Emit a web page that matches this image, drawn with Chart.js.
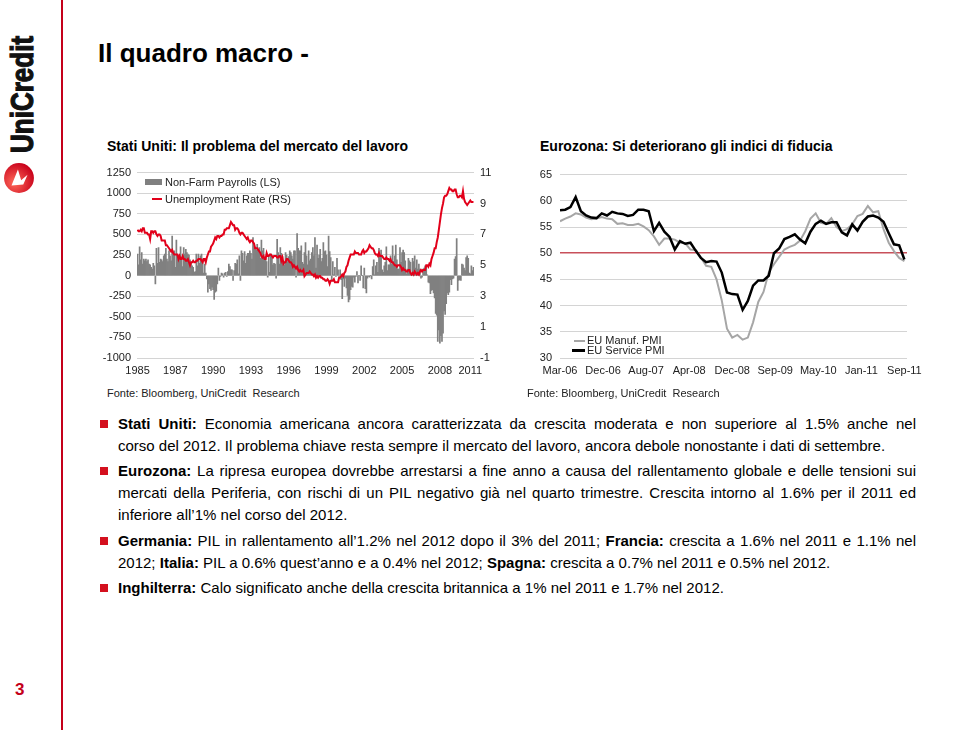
<!DOCTYPE html>
<html>
<head>
<meta charset="utf-8">
<script src="https://cdn.jsdelivr.net/npm/chart.js@4.4.0/dist/chart.umd.min.js"></script>
<style>
  body { margin: 0; width: 960px; height: 734px; position: relative; background: #fff; overflow: hidden;
         font-family: "Liberation Sans", Arial, sans-serif; color: #000; }
  .abs { position: absolute; }
  #redline { left: 61px; top: 0; width: 2px; height: 730px; background: #c4001a; }
  #logo { left: -33px; top: 78px; width: 112px; height: 32px; line-height: 32px; text-align: center;
          font-size: 31px; font-weight: bold; color: #111; white-space: nowrap;
          -webkit-text-stroke: 1.2px #111;
          transform: rotate(-90deg) scaleX(0.84); }
  #pageno { left: 15px; top: 680px; font-size: 17px; font-weight: bold; color: #c4001a; }
  #title { left: 98px; top: 38px; font-size: 26px; font-weight: bold; line-height: 30px; }
  .ctitle { top: 138px; font-size: 14px; font-weight: bold; line-height: 16px; white-space: nowrap; }
  .src { top: 387px; font-size: 11px; line-height: 13px; color: #222; white-space: nowrap; }
  canvas.abs { display: block; }
  .leg { font-size: 11px; line-height: 13px; color: #222; white-space: nowrap; }
  .bul { left: 100px; width: 8px; height: 8px; background: #d4101e; }
  .ln { left: 118px; width: 798px; font-size: 15px; line-height: 22px; height: 22px; }
  .j { text-align: justify; text-align-last: justify; }
  .l { text-align: left; white-space: nowrap; }
</style>
</head>
<body>
<div id="redline" class="abs"></div>
<div id="logo" class="abs" style="top:90px">UniCredit</div>
<svg class="abs" style="left:3px;top:162px" width="32" height="32" viewBox="0 0 30 30">
  <defs>
    <radialGradient id="rg" cx="0.35" cy="0.65" r="0.7">
      <stop offset="0" stop-color="#ff6a5a"/>
      <stop offset="1" stop-color="#c8001a"/>
    </radialGradient>
  </defs>
  <circle cx="15" cy="15" r="14" fill="url(#rg)"/>
  <path d="M8 22 L14 7 L17 17 L23 12 L19 21 Z" fill="#fff"/>
</svg>
<div id="pageno" class="abs">3</div>

<div id="title" class="abs">Il quadro macro -</div>
<div class="abs ctitle" style="left:107px">Stati Uniti: Il problema del mercato del lavoro</div>
<div class="abs ctitle" style="left:540px">Eurozona: Si deteriorano gli indici di fiducia</div>

<canvas id="usChart" class="abs" style="left:100px;top:160px" width="400" height="222"></canvas>
<canvas id="euChart" class="abs" style="left:520px;top:160px" width="420" height="222"></canvas>

<!-- legends -->
<div class="abs" style="left:145px;top:179px;width:17px;height:6px;background:#808080"></div>
<div class="abs leg" style="left:165px;top:176px">Non-Farm Payrolls (LS)</div>
<div class="abs" style="left:152px;top:198px;width:10px;height:2px;background:#e2001a"></div>
<div class="abs leg" style="left:165px;top:193px">Unemployment Rate (RS)</div>

<div class="abs" style="left:574px;top:340px;width:11px;height:2px;background:#a6a6a6"></div>
<div class="abs leg" style="left:587px;top:334px">EU Manuf. PMI</div>
<div class="abs" style="left:572px;top:349px;width:13px;height:2.5px;background:#000"></div>
<div class="abs leg" style="left:587px;top:344px">EU Service PMI</div>

<div class="abs src" style="left:107px">Fonte: Bloomberg, UniCredit&nbsp; Research</div>
<div class="abs src" style="left:527px">Fonte: Bloomberg, UniCredit&nbsp; Research</div>

<!-- bullet text -->
<div class="abs bul" style="top:420px"></div>
<div class="abs ln j" style="top:413px"><b>Stati Uniti:</b> Economia americana ancora caratterizzata da crescita moderata e non superiore al 1.5% anche nel</div>
<div class="abs ln l" style="top:435px">corso del 2012. Il problema chiave resta sempre il mercato del lavoro, ancora debole nonostante i dati di settembre.</div>

<div class="abs bul" style="top:467px"></div>
<div class="abs ln j" style="top:460px"><b>Eurozona:</b> La ripresa europea dovrebbe arrestarsi a fine anno a causa del rallentamento globale e delle tensioni sui</div>
<div class="abs ln j" style="top:482px">mercati della Periferia, con rischi di un PIL negativo già nel quarto trimestre. Crescita intorno al 1.6% per il 2011 ed</div>
<div class="abs ln l" style="top:504px">inferiore all’1% nel corso del 2012.</div>

<div class="abs bul" style="top:537px"></div>
<div class="abs ln j" style="top:530px"><b>Germania:</b> PIL in rallentamento all’1.2% nel 2012 dopo il 3% del 2011; <b>Francia:</b> crescita a 1.6% nel 2011 e 1.1% nel</div>
<div class="abs ln l" style="top:552px">2012; <b>Italia:</b> PIL a 0.6% quest’anno e a 0.4% nel 2012; <b>Spagna:</b> crescita a 0.7% nel 2011 e 0.5% nel 2012.</div>

<div class="abs bul" style="top:584px"></div>
<div class="abs ln l" style="top:577px"><b>Inghilterra:</b> Calo significato anche della crescita britannica a 1% nel 2011 e 1.7% nel 2012.</div>

<script>
// US: monthly, Jan 1985 - Sep 2011
const yearLabels = ['1985', '1987', '1990', '1993', '1996', '1999', '2002', '2005', '2008', '2011'];
const yearTickAt = [0, 36, 72, 108, 144, 180, 216, 252, 288, 317];

// non-farm payrolls, monthly change (thousands)
const payrolls = [
  260, 130, 350, 190, 280, 140, 200, 180, 200, 170, 190, 140,      // 1985
  130, 100, 80, 150, 120, -100, 330, 150, 340, 160, 200, 190,      // 1986
  170, 240, 260, 330, 200, 170, 300, 240, 180, 480, 260, 300,      // 1987
  100, 430, 230, 250, 200, 350, 220, 110, 340, 260, 320, 280,      // 1988
  260, 250, 190, 160, 120, 100, 40, 50, 260, 120, 260, 150,        // 1989
  240, 260, 200, 30, 140, 30, -40, -200, -100, -160, -180, -140,   // 1990
  -170, -290, -200, -190, -100, 90, -60, -10, 30, 20, -20, 30,     // 1991
  40, -10, 50, 140, 110, 70, 70, -60, 60, 150, 140, 190,           // 1992
  20, 240, -60, 300, 270, 180, 290, 150, 240, 270, 270, 300,       // 1993
  270, 200, 460, 350, 330, 310, 380, 290, 340, 210, 430, 300,      // 1994
  330, 220, 220, 170, -20, 240, 40, 260, 240, 130, 150, 140,       // 1995
  -30, 440, 280, 140, 340, 270, 230, 180, 130, 280, 250, 170,      // 1996
  230, 300, 280, 240, 200, 300, 300, -20, 510, 330, 300, 300,      // 1997
  360, 160, 140, 280, 400, 240, 130, 300, 180, 200, 280, 340,      // 1998
  240, 460, 90, 370, 210, 250, 320, 170, 210, 400, 290, 300,       // 1999
  250, 110, 480, 290, 220, -50, 170, 10, 100, -10, 210, 70,        // 2000
  -10, 70, -50, -280, -40, -130, -30, -150, -240, -320, -290, -170, // 2001
  -130, -140, -20, -80, -10, 50, -90, 0, -60, 120, 0, -150,        // 2002
  90, -160, -210, -30, -10, -20, 0, -40, 110, 190, 10, 120,        // 2003
  160, 40, 330, 250, 310, 70, 40, 120, 160, 350, 60, 130,          // 2004
  130, 240, 140, 360, 170, 240, 370, 190, 80, 80, 340, 160,        // 2005
  280, 310, 280, 180, 20, 80, 210, 180, 160, 0, 210, 170,          // 2006
  240, 90, 190, 80, 140, 80, -30, -20, 80, 90, 120, 100,           // 2007
  10, -80, -90, -220, -180, -170, -210, -270, -460, -480, -800, -660, // 2008
  -820, -730, -800, -700, -430, -470, -340, -210, -230, -200, -50, -110, // 2009
  -40, -30, 200, 230, 450, -180, -60, -50, -60, 140, 130, 90,      // 2010
  60, 220, 240, 210, 30, 20, 120, 60, 100                          // 2011
];

// unemployment rate (%)
const unemployment = [
  7.3, 7.2, 7.2, 7.3, 7.2, 7.4, 7.4, 7.1, 7.1, 7.1, 7.0, 7.0,
  6.7, 7.2, 7.2, 7.1, 7.2, 7.2, 7.0, 6.9, 7.0, 7.0, 6.9, 6.6,
  6.6, 6.6, 6.6, 6.3, 6.3, 6.2, 6.1, 6.0, 5.9, 6.0, 5.8, 5.7,
  5.7, 5.7, 5.7, 5.4, 5.6, 5.4, 5.4, 5.6, 5.4, 5.4, 5.3, 5.3,
  5.4, 5.2, 5.0, 5.2, 5.2, 5.3, 5.2, 5.2, 5.3, 5.3, 5.4, 5.4,
  5.4, 5.3, 5.2, 5.4, 5.4, 5.2, 5.5, 5.7, 5.9, 5.9, 6.2, 6.3,
  6.4, 6.6, 6.8, 6.7, 6.9, 6.9, 6.8, 6.9, 6.9, 7.0, 7.0, 7.3,
  7.3, 7.4, 7.4, 7.4, 7.6, 7.8, 7.7, 7.6, 7.6, 7.3, 7.4, 7.4,
  7.3, 7.1, 7.0, 7.1, 7.1, 7.0, 6.9, 6.8, 6.7, 6.8, 6.6, 6.5,
  6.6, 6.6, 6.5, 6.4, 6.1, 6.1, 6.1, 6.0, 5.9, 5.8, 5.6, 5.5,
  5.6, 5.4, 5.4, 5.8, 5.6, 5.6, 5.7, 5.7, 5.6, 5.5, 5.6, 5.6,
  5.6, 5.5, 5.5, 5.6, 5.6, 5.3, 5.5, 5.1, 5.2, 5.2, 5.4, 5.4,
  5.3, 5.2, 5.2, 5.1, 4.9, 5.0, 4.9, 4.8, 4.9, 4.7, 4.6, 4.7,
  4.6, 4.6, 4.7, 4.3, 4.4, 4.5, 4.5, 4.5, 4.6, 4.5, 4.4, 4.4,
  4.3, 4.4, 4.2, 4.3, 4.2, 4.3, 4.3, 4.2, 4.2, 4.1, 4.1, 4.0,
  4.0, 4.1, 4.0, 3.8, 4.0, 4.0, 4.0, 4.1, 3.9, 3.9, 3.9, 3.9,
  4.2, 4.2, 4.3, 4.4, 4.3, 4.5, 4.6, 4.9, 5.0, 5.3, 5.5, 5.7,
  5.7, 5.7, 5.7, 5.9, 5.8, 5.8, 5.8, 5.7, 5.7, 5.7, 5.9, 6.0,
  5.8, 5.9, 5.9, 6.0, 6.1, 6.3, 6.2, 6.1, 6.1, 6.0, 5.8, 5.7,
  5.7, 5.6, 5.8, 5.6, 5.6, 5.6, 5.5, 5.4, 5.4, 5.5, 5.4, 5.4,
  5.3, 5.4, 5.2, 5.2, 5.1, 5.0, 5.0, 4.9, 5.0, 5.0, 5.0, 4.9,
  4.7, 4.8, 4.7, 4.7, 4.6, 4.6, 4.7, 4.7, 4.5, 4.4, 4.5, 4.4,
  4.6, 4.5, 4.4, 4.5, 4.4, 4.6, 4.7, 4.6, 4.7, 4.7, 4.7, 5.0,
  5.0, 4.9, 5.1, 5.0, 5.4, 5.6, 5.8, 6.1, 6.1, 6.5, 6.8, 7.3,
  7.8, 8.3, 8.7, 9.0, 9.4, 9.5, 9.5, 9.6, 9.8, 10.0, 9.9, 9.9,
  9.8, 9.8, 9.9, 9.9, 9.6, 9.4, 9.4, 9.5, 9.5, 9.4, 9.8, 9.3,
  9.1, 9.0, 8.9, 9.0, 9.1, 9.2, 9.1, 9.1, 9.1
];

// Eurozone PMI: monthly, Mar 2006 - Sep 2011
const pmiLabels = ['Mar-06', 'Dec-06', 'Aug-07', 'Apr-08', 'Dec-08', 'Sep-09', 'May-10', 'Jan-11', 'Sep-11'];
const manufPMI = [
  56.1, 56.6, 57.0, 57.6, 57.4, 56.8, 56.5, 56.6, 56.9, 56.6,
  56.5, 55.6, 55.7, 55.4, 55.4, 55.6, 55.1, 54.4, 53.2, 51.6,
  52.8, 52.8, 52.6, 52.0, 51.9, 50.7, 50.6, 49.2, 47.6, 47.4,
  45.0, 41.0, 35.6, 33.9, 34.4, 33.5, 33.9, 36.8, 40.7, 42.6,
  46.3, 47.9, 49.3, 50.7, 51.2, 51.6, 52.4, 54.2, 56.6, 57.6,
  55.8, 55.6, 56.7, 55.0, 54.2, 54.6, 55.5, 57.1, 57.5, 59.0,
  57.8, 58.0, 54.6, 52.0, 50.4, 49.1, 48.5
];
const servicePMI = [
  58.2, 58.3, 58.8, 60.7, 58.0, 57.2, 56.8, 56.7, 57.6, 57.2,
  57.9, 57.6, 57.5, 57.1, 57.3, 58.3, 58.3, 58.0, 54.2, 55.8,
  54.1, 53.1, 50.7, 52.3, 51.8, 52.0, 50.5, 49.1, 48.3, 48.5,
  48.4, 46.3, 42.5, 42.2, 42.1, 39.2, 40.9, 43.8, 44.8, 44.8,
  45.7, 50.0, 50.9, 52.7, 53.1, 53.6, 52.6, 51.9, 54.1, 55.6,
  56.2, 55.6, 55.9, 55.9, 54.0, 53.4, 55.5, 54.3, 56.0, 57.0,
  57.2, 56.8, 56.0, 53.8, 51.7, 51.5, 48.8
];
const pmiThreshold = 50;

Chart.defaults.font.family = '"Liberation Sans", Arial, sans-serif';
Chart.defaults.font.size = 11;
Chart.defaults.color = '#222';

const toXY = (arr) => arr.map((v, i) => ({ x: i, y: v }));

const usChart = new Chart(document.getElementById('usChart'), {
  type: 'bar',
  data: {
    datasets: [
      {
        type: 'line',
        label: 'Unemployment Rate (RS)',
        data: toXY(unemployment),
        yAxisID: 'y1',
        borderColor: '#e2001a',
        borderWidth: 2,
        pointRadius: 0,
        tension: 0,
        order: 0,
      },
      {
        label: 'Non-Farm Payrolls (LS)',
        data: toXY(payrolls),
        yAxisID: 'y',
        backgroundColor: '#808080',
        barPercentage: 1,
        categoryPercentage: 1,
        order: 1,
      },
    ],
  },
  options: {
    responsive: false,
    animation: false,
    layout: { padding: { top: 10 } },
    plugins: { legend: { display: false }, tooltip: { enabled: false } },
    scales: {
      x: {
        type: 'linear',
        offset: false,
        min: -0.5,
        max: 320.5,
        grid: { display: false, drawTicks: false, offset: false },
        border: { display: false },
        afterBuildTicks: (axis) => {
          axis.ticks = yearTickAt.map((v) => ({ value: v }));
        },
        ticks: {
          padding: 6,
          autoSkip: false,
          maxRotation: 0,
          callback: (v) => yearLabels[yearTickAt.indexOf(v)],
        },
        afterFit: (axis) => { axis.height = 24; },
      },
      y: {
        position: 'left',
        min: -1000,
        max: 1250,
        ticks: { stepSize: 250, padding: 6, callback: (v) => String(v) },
        grid: { color: '#d4d4d4', drawTicks: false },
        border: { display: false },
        afterFit: (axis) => { axis.width = 37; },
      },
      y1: {
        position: 'right',
        min: -1,
        max: 11,
        ticks: { stepSize: 2, padding: 6, callback: (v) => String(v) },
        grid: { display: false, drawTicks: false },
        border: { display: false },
        afterFit: (axis) => { axis.width = 26; },
      },
    },
  },
});

const euChart = new Chart(document.getElementById('euChart'), {
  type: 'line',
  data: {
    datasets: [
      {
        label: 'EU Service PMI',
        data: toXY(servicePMI),
        borderColor: '#000',
        borderWidth: 2.5,
        pointRadius: 0,
        tension: 0,
        order: 0,
      },
      {
        label: 'EU Manuf. PMI',
        data: toXY(manufPMI),
        borderColor: '#a6a6a6',
        borderWidth: 2,
        pointRadius: 0,
        tension: 0,
        order: 1,
      },
    ],
  },
  options: {
    responsive: false,
    animation: false,
    layout: { padding: { top: 9, right: 33 } },
    plugins: { legend: { display: false }, tooltip: { enabled: false } },
    scales: {
      x: {
        type: 'linear',
        min: 0,
        max: 66.5,
        grid: { display: false, drawTicks: false },
        border: { display: false },
        afterBuildTicks: (axis) => {
          axis.ticks = pmiLabels.map((_, i) => ({ value: (i * (servicePMI.length - 1)) / (pmiLabels.length - 1) }));
        },
        ticks: {
          padding: 6,
          autoSkip: false,
          maxRotation: 0,
          callback: (v, i) => pmiLabels[i],
        },
        afterFit: (axis) => { axis.height = 24; },
      },
      y: {
        min: 30,
        max: 65,
        ticks: { stepSize: 5, padding: 8 },
        grid: {
          // the 50 line (expansion / contraction) is drawn red
          color: (ctx) => (ctx.tick && ctx.tick.value === pmiThreshold ? '#c8505a' : '#d4d4d4'),
          lineWidth: (ctx) => (ctx.tick && ctx.tick.value === pmiThreshold ? 1.5 : 1),
          drawTicks: false,
        },
        border: { display: false },
        afterFit: (axis) => { axis.width = 40; },
      },
    },
  },
});
</script>
</body>
</html>
